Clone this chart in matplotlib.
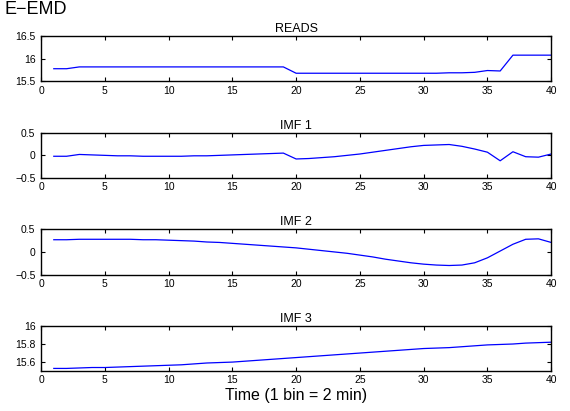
import matplotlib
matplotlib.use("Agg")
import matplotlib.pyplot as plt

plt.rcParams["font.family"] = ["Liberation Sans", "DejaVu Sans"]

BINS = list(range(1, 41))

READS = [15.78, 15.78, 15.82, 15.82, 15.82, 15.82, 15.82, 15.82, 15.82, 15.82,
         15.82, 15.82, 15.82, 15.82, 15.82, 15.82, 15.82, 15.82, 15.82, 15.68,
         15.68, 15.68, 15.68, 15.68, 15.68, 15.68, 15.68, 15.68, 15.68, 15.68,
         15.68, 15.69, 15.69, 15.70, 15.74, 15.73, 16.08, 16.08, 16.08, 16.08]

IMF1 = [-0.02, -0.02, 0.02, 0.01, 0.00, -0.01, -0.01, -0.02, -0.02, -0.02,
        -0.02, -0.01, -0.01, 0.00, 0.01, 0.02, 0.03, 0.04, 0.05, -0.08,
        -0.07, -0.05, -0.03, 0.00, 0.03, 0.07, 0.11, 0.15, 0.19, 0.22,
        0.23, 0.24, 0.20, 0.14, 0.07, -0.12, 0.08, -0.03, -0.04, 0.03]

IMF2 = [0.27, 0.27, 0.28, 0.28, 0.28, 0.28, 0.28, 0.27, 0.27, 0.26,
        0.25, 0.24, 0.22, 0.21, 0.19, 0.17, 0.15, 0.13, 0.11, 0.09,
        0.06, 0.03, 0.00, -0.03, -0.07, -0.11, -0.16, -0.20, -0.24, -0.27,
        -0.29, -0.30, -0.29, -0.24, -0.13, 0.02, 0.17, 0.28, 0.29, 0.21]

IMF3 = [15.53, 15.53, 15.535, 15.54, 15.54, 15.545, 15.55, 15.555, 15.56, 15.565,
        15.57, 15.58, 15.59, 15.595, 15.60, 15.61, 15.62, 15.63, 15.64, 15.65,
        15.66, 15.67, 15.68, 15.69, 15.70, 15.71, 15.72, 15.73, 15.74, 15.75,
        15.755, 15.76, 15.77, 15.78, 15.79, 15.795, 15.80, 15.81, 15.815, 15.82]

PANELS = [
    ("READS", READS, (15.5, 16.5), [15.5, 16, 16.5], ["15.5", "16", "16.5"]),
    ("IMF 1", IMF1, (-0.5, 0.5), [-0.5, 0, 0.5], ["\u22120.5", "0", "0.5"]),
    ("IMF 2", IMF2, (-0.5, 0.5), [-0.5, 0, 0.5], ["\u22120.5", "0", "0.5"]),
    ("IMF 3", IMF3, (15.5, 16.0), [15.6, 15.8, 16], ["15.6", "15.8", "16"]),
]


def main() -> int:
    fig = plt.figure(figsize=(5.7, 4.11), dpi=100)
    left, width, height = 0.072, 0.895, 0.11
    tops = [0.912, 0.677, 0.442, 0.207]
    for (title, vals, ylim, yt, ytl), top in zip(PANELS, tops):
        ax = fig.add_axes([left, top - height, width, height])
        ax.plot(BINS, vals, color="blue", lw=0.9)
        ax.set_xlim(0, 40)
        ax.set_ylim(*ylim)
        ax.set_xticks(range(0, 41, 5))
        ax.set_yticks(yt)
        ax.set_yticklabels(ytl)
        ax.tick_params(direction="in", top=True, right=True, labelsize=7.5,
                       length=3, width=0.8, pad=4)
        ax.tick_params(axis="x", pad=3)
        for sp in ax.spines.values():
            sp.set_linewidth(1.0)
        ax.set_title(title, fontsize=9, pad=3)
        if title == "IMF 3":
            ax.set_xlabel("Time (1 bin = 2 min)", fontsize=11.5, labelpad=2)
    fig.text(0.008, 0.997, "E\u2212EMD", fontsize=13, ha="left", va="top")
    fig.savefig("out.png", dpi=100)
    plt.close(fig)
    return 0


if __name__ == "__main__":
    raise SystemExit(main())
